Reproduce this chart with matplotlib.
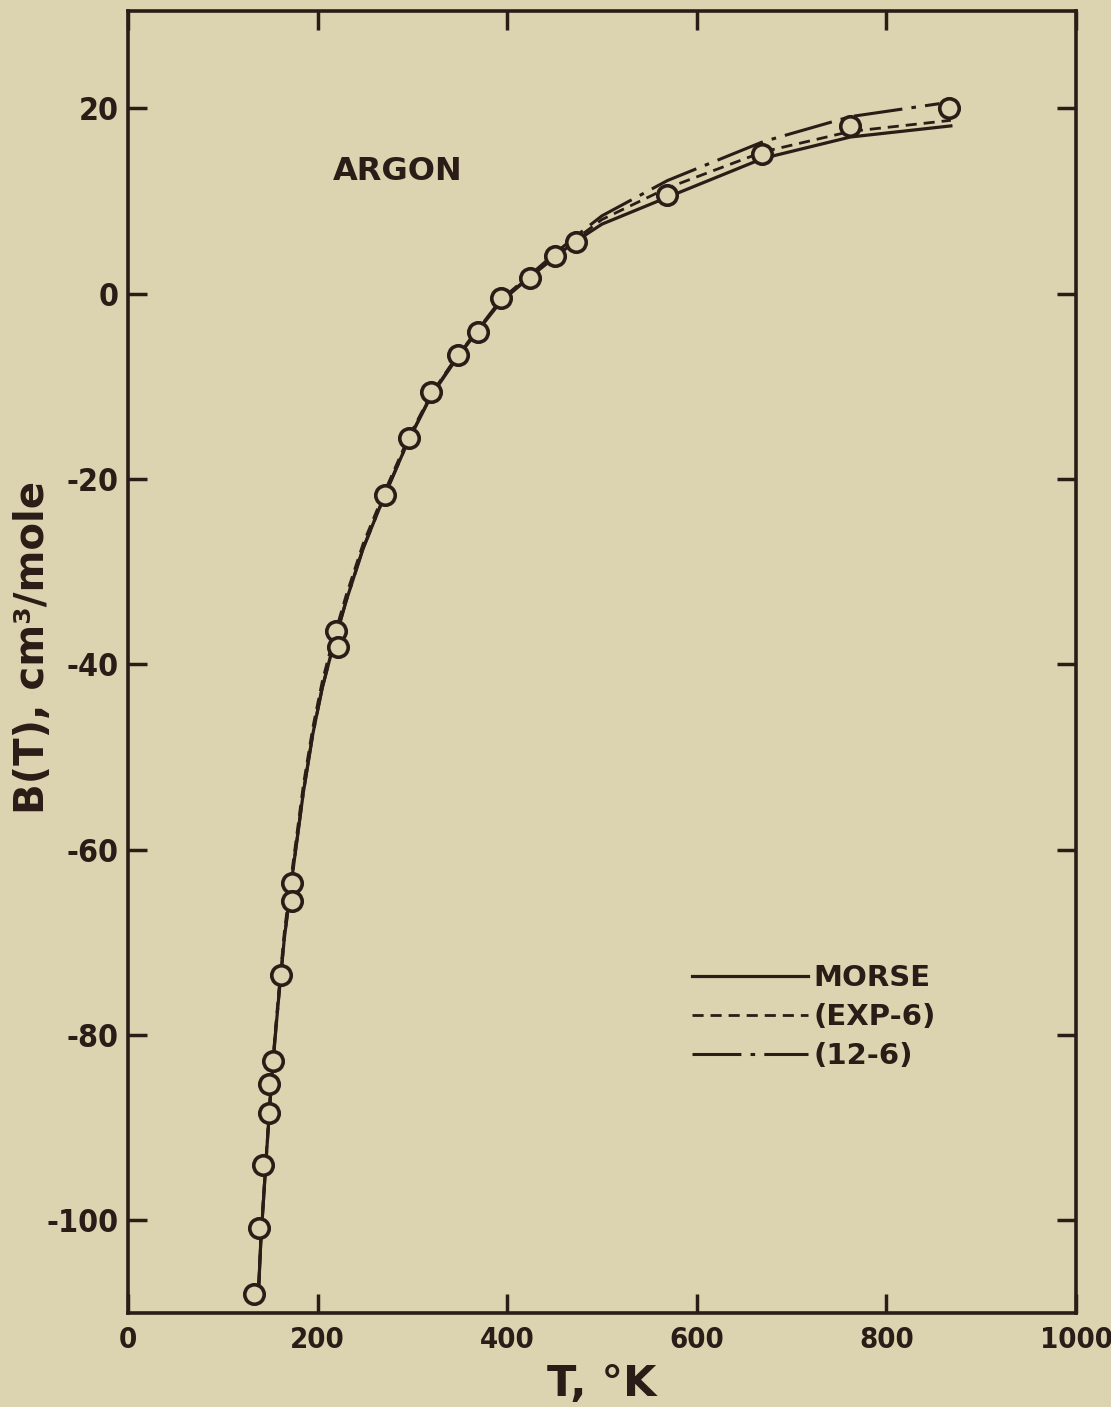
import matplotlib
matplotlib.use("Agg")
import matplotlib.pyplot as plt

plt.rcParams['font.family'] = ['DejaVu Sans']
plt.rcParams['font.weight'] = 'bold'
plt.rcParams['axes.labelweight'] = 'bold'
plt.rcParams['axes.unicode_minus'] = False

# measured points
T_data = [133, 138.5, 142.7, 148.7, 149, 152.6, 161.4, 172.7, 172.7,
          219.5, 221.5, 271, 296.4, 320, 348.5, 368.8, 393, 424, 450,
          472.6, 568.6, 668.8, 761.6, 866]
B_data = [-108.0, -100.8, -94.0, -88.4, -85.3, -82.8, -73.5, -63.6, -65.5,
          -36.4, -38.1, -21.7, -15.6, -10.6, -6.6, -4.1, -0.5, 1.7, 4.1,
          5.6, 10.6, 15.1, 18.1, 20.0]

# curves
T_morse = [138, 140, 145, 150, 155, 160, 165, 173, 185, 195, 205, 216, 230,
           248, 271, 296, 320, 348, 369, 393, 424, 450, 470, 500, 569, 670,
           762, 868]
B_morse = [-107.0, -102.5, -94.5, -87.0, -80.5, -74.8, -69.5, -63.0, -53.8,
           -47.5, -42.5, -38.2, -33.2, -27.5, -21.7, -15.8, -11.0, -6.8, -4.0,
           -0.9, 1.8, 3.9, 5.5, 7.5, 10.4, 14.6, 16.9, 18.1]

T_exp6 = [138, 140, 145, 150, 155, 160, 165, 173, 185, 195, 205, 216, 230,
          248, 271, 296, 320, 348, 369, 393, 424, 450, 470, 500, 569, 670,
          762, 868]
B_exp6 = [-106.8, -102.2, -94.2, -86.6, -80.0, -74.2, -68.8, -62.3, -53.0,
          -46.8, -41.8, -37.5, -32.6, -27.0, -21.3, -15.5, -10.8, -6.6, -3.9,
          -0.8, 1.9, 4.1, 5.7, 8.0, 11.4, 15.3, 17.5, 18.7]

T_126 = [138, 140, 145, 150, 155, 160, 165, 173, 185, 195, 205, 216, 230,
         248, 271, 296, 320, 348, 369, 393, 424, 450, 470, 500, 569, 670,
         762, 856]
B_126 = [-107.0, -102.5, -94.5, -87.0, -80.5, -74.8, -69.5, -63.0, -53.8,
         -47.5, -42.5, -38.2, -33.2, -27.5, -21.7, -15.8, -10.9, -6.7, -3.9,
         -0.7, 2.0, 4.3, 6.0, 8.4, 12.2, 16.4, 19.1, 20.5]

x_ticks = [0, 200, 400, 600, 800, 1000]
y_ticks = [-100, -80, -60, -40, -20, 0, 20]

paper = '#dcd4b0'
ink = '#2a1c16'

fig = plt.figure(figsize=(11.11, 14.07), dpi=100, facecolor=paper)
ax = fig.add_axes([0.1152, 0.0668, 0.8533, 0.9254], facecolor=paper)

ax.plot(T_morse, B_morse, color=ink, lw=2.3, label='MORSE', zorder=3)
ax.plot(T_exp6, B_exp6, color=ink, lw=2.0, dashes=(4, 2.5), label='(EXP-6)', zorder=3)
ax.plot(T_126, B_126, color=ink, lw=2.2, dashes=(16, 3, 1.5, 3), label='(12-6)', zorder=3)
ax.plot(T_data, B_data, 'o', ms=14, mfc=paper, mec=ink, mew=2.6, zorder=4)

ax.set_xlim(0, 1000)
ax.set_ylim(-110, 30.5)
ax.set_xticks(x_ticks)
ax.set_yticks(y_ticks)
ax.set_xticklabels([str(v) for v in x_ticks])
ax.set_yticklabels([str(v) for v in y_ticks])
ax.tick_params(direction='in', length=14, width=2.5, colors=ink,
               top=True, right=True, pad=7)
ax.tick_params(axis='x', labelsize=21, pad=9)
ax.tick_params(axis='y', labelsize=23)
for lab in ax.get_xticklabels() + ax.get_yticklabels():
    lab.set_fontstretch('condensed')
for s in ax.spines.values():
    s.set_linewidth(2.6)
    s.set_color(ink)

ax.set_xlabel('T, °K', fontsize=31, color=ink, labelpad=7)
ax.set_ylabel('B(T), cm³/mole', fontsize=29, color=ink)
ax.yaxis.set_label_coords(-0.079, 0.511)

ax.text(285, 13.2, 'ARGON', fontsize=23, color=ink, ha='center', va='center')

leg = ax.legend(loc='upper left', bbox_to_anchor=(0.580, 0.279), frameon=False,
                fontsize=21, handlelength=3.95, handletextpad=0.2,
                labelspacing=0.37, borderpad=0)
for t in leg.get_texts():
    t.set_color(ink)

fig.savefig('out.png', dpi=100, facecolor=paper)
